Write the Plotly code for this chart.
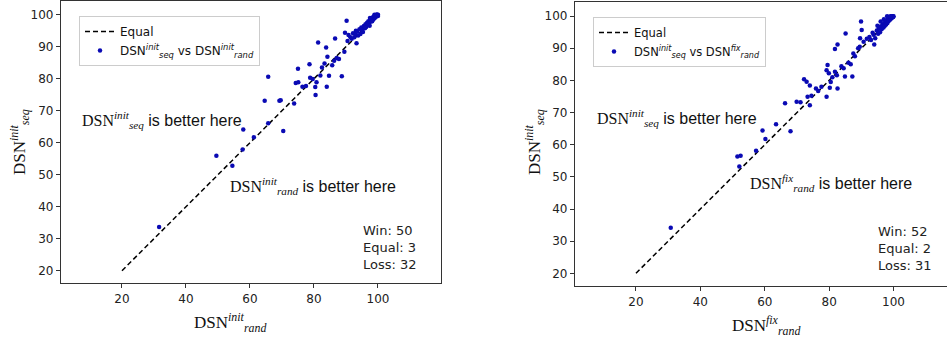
import plotly.graph_objects as go

W, H = 947, 341

# ---------------- data ----------------
equal_line = [20, 100]
x_ticks = [20, 40, 60, 80, 100]
y_ticks = [20, 30, 40, 50, 60, 70, 80, 90, 100]

# Left panel: DSN_rand^init (x) vs DSN_seq^init (y)
left_rand = [31.6, 49.5, 54.5, 57.7, 57.9, 61.2, 65.7, 70.4, 64.6, 65.7,
             69.2, 69.6, 73.8, 74.3, 75.1, 75.0, 76.4, 77.5, 78.6, 78.8,
             79.6, 80.5, 80.8, 80.4, 81.3, 82.0, 82.5, 83.3, 84.0, 83.8,
             84.2, 84.7, 85.7, 86.3, 87.1, 87.8, 86.6, 88.7, 89.5, 89.7,
             90.2, 90.5, 90.8, 91.4, 93.3, 93.1,
             91.8, 92.2, 92.6, 93.0, 93.5, 93.8, 94.2, 94.5, 94.8, 95.0,
             95.3, 95.6, 95.9, 96.1, 96.3, 96.6, 96.8, 97.0, 97.2, 97.4,
             97.6, 97.8, 98.0, 98.2, 98.4, 98.6, 98.8, 99.0, 99.2, 99.4,
             99.5, 99.7, 99.8, 100.0, 100.0, 99.6, 98.9, 97.5, 96.0]
left_seq = [33.7, 55.9, 52.8, 57.9, 64.1, 61.7, 66.1, 63.7, 73.1, 80.6,
            73.1, 73.3, 72.3, 78.7, 78.9, 83.1, 77.5, 77.7, 84.5, 80.3,
            79.9, 74.9, 78.9, 77.4, 91.3, 81.0, 83.5, 84.8, 77.5, 89.8,
            86.9, 80.9, 84.2, 85.6, 86.5, 86.2, 92.6, 80.8, 88.4, 94.4,
            98.1, 91.8, 93.7, 93.0, 91.1, 95.0,
            92.5, 94.2, 93.0, 93.8, 94.8, 93.5, 95.5, 94.0, 96.0, 95.2,
            94.6, 96.5, 95.8, 97.0, 96.2, 97.5, 96.8, 98.0, 97.2, 96.6,
            98.4, 97.9, 98.8, 98.0, 99.2, 98.6, 99.5, 99.0, 99.8, 99.4,
            100.0, 99.7, 100.0, 100.0, 99.6, 100.0, 100.0, 99.0, 96.0]

# Right panel: DSN_rand^fix (x) vs DSN_seq^init (y)
right_rand = [30.8, 51.5, 52.5, 52.1, 57.3, 59.3, 60.2, 63.5, 68.0, 66.3,
              69.9, 71.1, 74.0, 72.2, 73.0, 74.0, 73.3, 75.9, 74.5, 76.6,
              77.6, 79.2, 79.2, 79.5, 79.9, 80.2, 80.5, 81.0, 81.8, 82.4,
              82.6, 81.8, 82.6, 83.8, 84.5, 84.9, 85.1, 86.0, 86.7, 87.2,
              87.5, 88.0, 89.0, 89.5, 89.9, 90.1, 89.6, 90.7, 91.7, 94.0,
              93.8, 94.3,
              92.5, 93.0, 93.5, 94.8, 95.2, 95.5, 95.8, 96.0, 96.3, 96.6,
              96.9, 97.1, 97.3, 97.5, 97.7, 97.9, 98.1, 98.3, 98.5, 98.7,
              98.9, 99.1, 99.3, 99.5, 99.6, 99.8, 100.0, 99.9, 96.0, 97.0,
              95.0, 98.0, 99.0]
right_seq = [34.2, 56.3, 56.6, 53.2, 58.1, 64.4, 61.8, 66.4, 64.2, 72.9,
             73.4, 73.2, 72.3, 80.4, 79.6, 78.4, 74.9, 77.5, 75.2, 76.7,
             78.0, 74.9, 83.2, 84.8, 82.2, 77.7, 79.5, 81.0, 82.7, 81.6,
             77.5, 89.8, 91.2, 84.4, 83.8, 81.2, 94.6, 85.5, 85.0, 81.2,
             88.4, 87.5, 90.0, 90.5, 98.3, 95.7, 93.1, 92.0, 93.0, 91.2,
             94.2, 93.1,
             93.5, 92.6, 94.8, 95.5, 94.5, 96.2, 95.0, 96.8, 95.9, 97.4,
             96.5, 97.8, 97.0, 98.3, 97.4, 98.6, 97.9, 99.2, 98.5, 99.5,
             98.9, 99.8, 99.3, 100.0, 99.6, 100.0, 100.0, 99.7, 98.3, 99.0,
             97.0, 100.0, 100.0]

left_stats = ["Win: 50", "Equal: 3", "Loss: 32"]
right_stats = ["Win: 52", "Equal: 2", "Loss: 31"]

# ---------------- helpers ----------------
def pxx(x):
    return x / W


def pyy(y):
    return 1 - y / H


SERIF = "Liberation Serif, DejaVu Serif, serif"
SANS = "DejaVu Sans, sans-serif"
ARIAL = "Liberation Sans, Arial, sans-serif"
DOT = "#0a0ab4"


def dsn(sub, sup):
    return ("DSN<sup><i>%s</i></sup><sub><i>%s</i></sub>" % (sup, sub))


fig = go.Figure()

# Left panel traces
fig.add_trace(go.Scatter(x=equal_line, y=equal_line, mode="lines", name="Equal",
                         line=dict(color="black", width=1.5, dash="5px,3px"),
                         xaxis="x", yaxis="y", legend="legend"))
fig.add_trace(go.Scatter(x=left_rand, y=left_seq, mode="markers",
                         name=dsn("seq", "init") + " vs " + dsn("rand", "init"),
                         marker=dict(color=DOT, size=4.5),
                         xaxis="x", yaxis="y", legend="legend"))
# Right panel traces
fig.add_trace(go.Scatter(x=equal_line, y=equal_line, mode="lines", name="Equal",
                         line=dict(color="black", width=1.5, dash="5px,3px"),
                         xaxis="x2", yaxis="y2", legend="legend2"))
fig.add_trace(go.Scatter(x=right_rand, y=right_seq, mode="markers",
                         name=dsn("seq", "init") + " vs " + dsn("rand", "fix"),
                         marker=dict(color=DOT, size=4.5),
                         xaxis="x2", yaxis="y2", legend="legend2"))

axis_common = dict(showgrid=False, zeroline=False, showline=True,
                   linecolor="#333", linewidth=1.3, ticks="outside",
                   ticklen=4, tickcolor="#333", tickwidth=1,
                   tickfont=dict(family=SANS, size=12, color="#222"))

fig.update_layout(
    width=W, height=H,
    margin=dict(l=0, r=0, t=0, b=0),
    paper_bgcolor="white", plot_bgcolor="white",
    xaxis=dict(domain=[pxx(61), pxx(441)], range=[0.94, 119.7],
               tickvals=x_ticks, mirror=True, anchor="y", **axis_common),
    yaxis=dict(domain=[pyy(283), pyy(1)], range=[16.16, 104.3],
               tickvals=y_ticks, mirror=True, anchor="x", **axis_common),
    xaxis2=dict(domain=[pxx(575), 1.0], range=[1.06, 116.6],
                tickvals=x_ticks, mirror=True, anchor="y2", **axis_common),
    yaxis2=dict(domain=[pyy(286), pyy(2)], range=[16.05, 104.4],
                tickvals=y_ticks, mirror=False, anchor="x2", **axis_common),
    legend=dict(x=pxx(79), y=pyy(16), xanchor="left", yanchor="top",
                bgcolor="white", bordercolor="#cccccc", borderwidth=1,
                font=dict(family=SANS, size=12, color="#111"),
                tracegroupgap=0, itemwidth=30),
    legend2=dict(x=pxx(593), y=pyy(17), xanchor="left", yanchor="top",
                 bgcolor="white", bordercolor="#cccccc", borderwidth=1,
                 font=dict(family=SANS, size=11.5, color="#111"),
                 tracegroupgap=0, itemwidth=30),
)


def better(sub, sup):
    return ("<span style='font-family:%s'>%s</span> is better here"
            % (SERIF, dsn(sub, sup)))


annotations = [
    # left panel texts
    dict(x=pxx(80), y=pyy(120), text=better("seq", "init")),
    dict(x=pxx(228), y=pyy(186), text=better("rand", "init")),
    # right panel texts
    dict(x=pxx(595), y=pyy(118), text=better("seq", "init")),
    dict(x=pxx(748), y=pyy(183), text=better("rand", "fix")),
]
anns = []
for a in annotations:
    anns.append(dict(xref="paper", yref="paper", xanchor="left", yanchor="middle",
                     showarrow=False, font=dict(family=ARIAL, size=16, color="#111"),
                     align="left", **a))

# stats boxes
anns.append(dict(xref="paper", yref="paper", x=pxx(361), y=pyy(221),
                 xanchor="left", yanchor="top", showarrow=False, align="left",
                 text="<br>".join(left_stats),
                 font=dict(family=SANS, size=13, color="#222")))
anns.append(dict(xref="paper", yref="paper", x=pxx(876), y=pyy(222),
                 xanchor="left", yanchor="top", showarrow=False, align="left",
                 text="<br>".join(right_stats),
                 font=dict(family=SANS, size=13, color="#222")))

# axis titles
title_font = dict(family=SERIF, size=17, color="#111")
anns.append(dict(xref="paper", yref="paper", x=pxx(19), y=pyy(142),
                 xanchor="center", yanchor="middle", textangle=-90,
                 showarrow=False, text=dsn("seq", "init"), font=title_font))
anns.append(dict(xref="paper", yref="paper", x=pxx(230), y=pyy(322),
                 xanchor="center", yanchor="middle",
                 showarrow=False, text=dsn("rand", "init"), font=title_font))
anns.append(dict(xref="paper", yref="paper", x=pxx(534), y=pyy(142),
                 xanchor="center", yanchor="middle", textangle=-90,
                 showarrow=False, text=dsn("seq", "init"), font=title_font))
anns.append(dict(xref="paper", yref="paper", x=pxx(766), y=pyy(325),
                 xanchor="center", yanchor="middle",
                 showarrow=False, text=dsn("rand", "fix"), font=title_font))

fig.update_layout(annotations=anns)

fig.write_html("out.html")
